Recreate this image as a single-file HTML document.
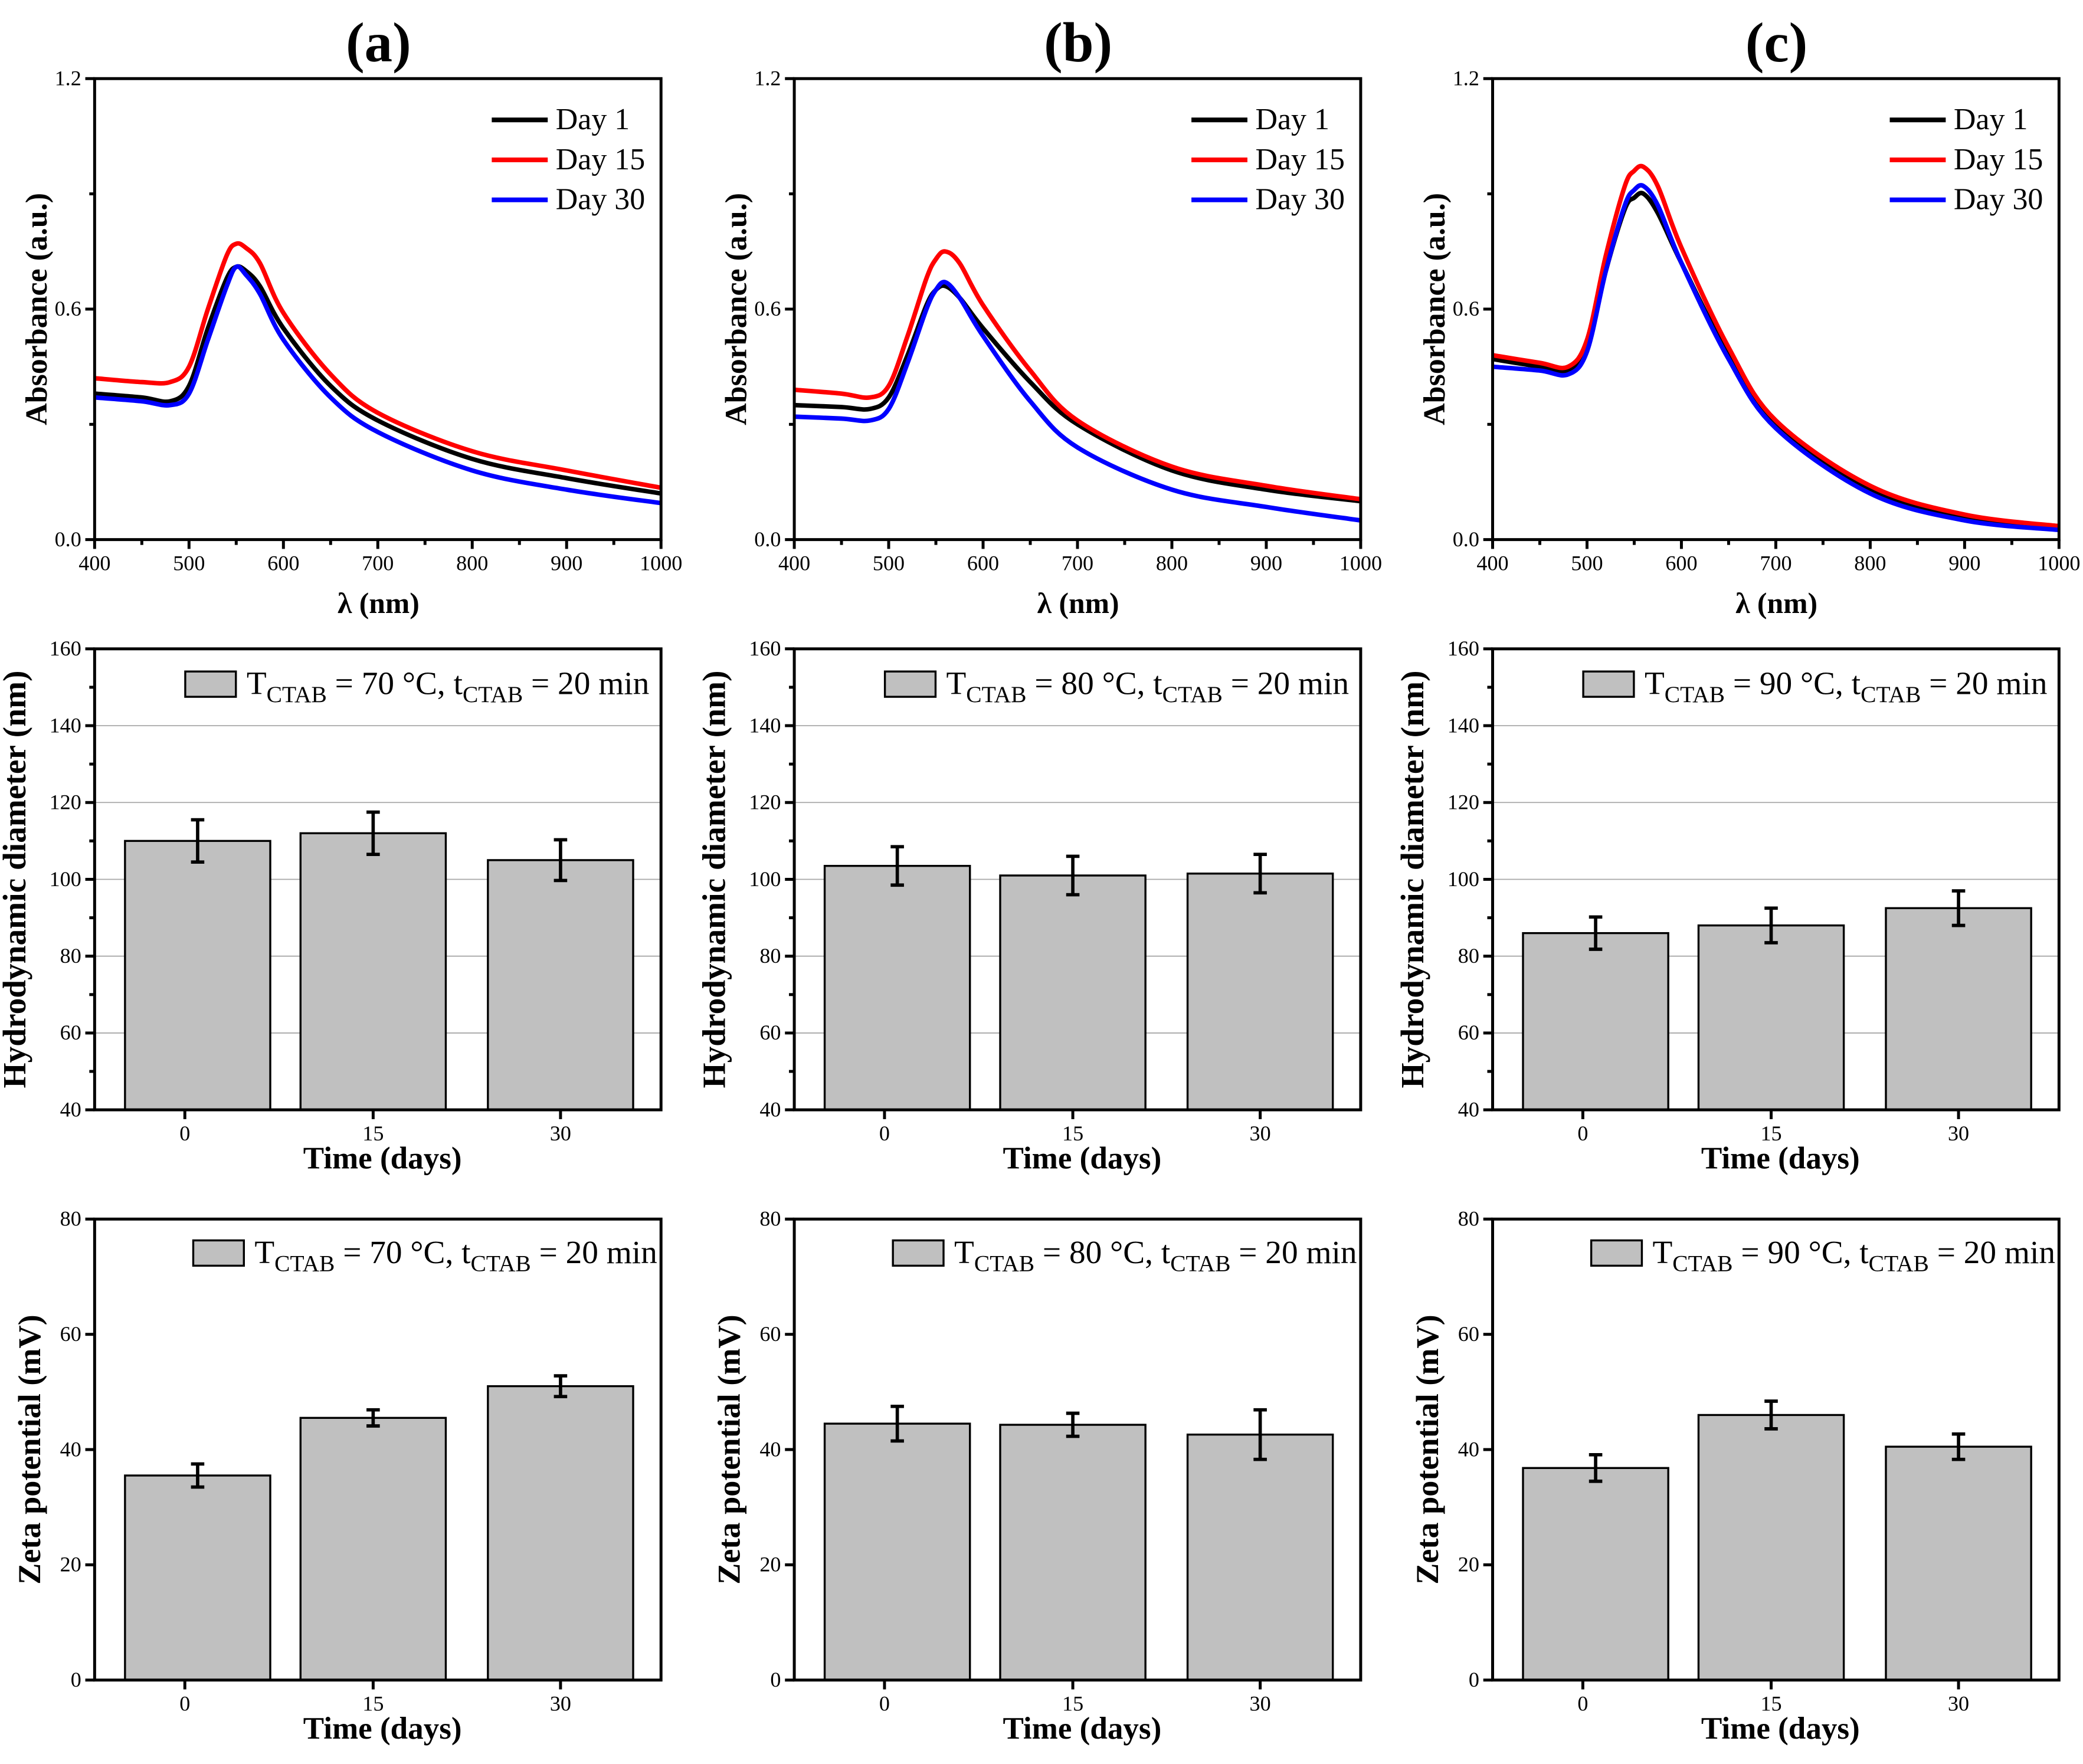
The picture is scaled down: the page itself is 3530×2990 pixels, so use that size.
<!DOCTYPE html>
<html><head><meta charset="utf-8">
<style>
html,body{margin:0;padding:0;background:#fff;}
svg{display:block;}
text{font-family:"Liberation Serif","DejaVu Serif",serif;fill:#000;}
</style></head>
<body>
<svg id="fig" xmlns="http://www.w3.org/2000/svg" width="3530" height="2990" viewBox="0 0 1563 1324" preserveAspectRatio="none"></svg>
<script>
// ---------- DATA ----------
const wavelengths = [400,450,480,500,520,540,550,560,575,600,650,700,800,900,1000];
const specA_day1  = [0.38,0.37,0.36,0.40,0.55,0.68,0.71,0.70,0.66,0.55,0.40,0.31,0.21,0.16,0.12];
const specA_day15 = [0.42,0.41,0.41,0.45,0.60,0.74,0.77,0.76,0.72,0.59,0.43,0.33,0.23,0.18,0.135];
const specA_day30 = [0.37,0.36,0.35,0.38,0.52,0.66,0.71,0.69,0.64,0.52,0.37,0.28,0.18,0.13,0.095];
const specB_day1  = [0.35,0.345,0.34,0.37,0.48,0.61,0.65,0.66,0.63,0.55,0.41,0.30,0.18,0.13,0.10];
const specB_day15 = [0.39,0.38,0.37,0.40,0.53,0.68,0.73,0.75,0.72,0.61,0.44,0.31,0.19,0.14,0.105];
const specB_day30 = [0.32,0.315,0.31,0.34,0.46,0.60,0.65,0.67,0.63,0.53,0.36,0.24,0.13,0.085,0.05];
const specC_day1  = [0.47,0.45,0.44,0.50,0.70,0.86,0.89,0.90,0.85,0.72,0.48,0.30,0.13,0.06,0.035];
const specC_day15 = [0.48,0.46,0.45,0.52,0.74,0.92,0.96,0.97,0.92,0.76,0.50,0.31,0.14,0.065,0.035];
const specC_day30 = [0.45,0.44,0.43,0.49,0.70,0.87,0.91,0.92,0.87,0.72,0.47,0.29,0.12,0.05,0.025];
const dayLabels = ["Day 1","Day 15","Day 30"];
const timeCats = ["0","15","30"];
const hydroA = [110,112,105], hydroAErr = [5.5,5.5,5.3];
const hydroB = [103.5,101,101.5], hydroBErr = [5,5,5];
const hydroC = [86,88,92.5], hydroCErr = [4.2,4.5,4.5];
const zetaA = [35.5,45.5,51], zetaAErr = [2,1.4,1.8];
const zetaB = [44.5,44.3,42.6], zetaBErr = [3,2,4.3];
const zetaC = [36.8,46,40.5], zetaCErr = [2.3,2.4,2.2];
const specTicks = ["0.0","0.6","1.2"], specTickVals=[0,0.6,1.2];
const xTicks = [400,500,600,700,800,900,1000];
const hydroTicks = [40,60,80,100,120,140,160];
const zetaTicks = [0,20,40,60,80];
const temps = ["70","80","90"];
const panelTitles = ["(a)","(b)","(c)"];

// ---------- LAYOUT ----------
const NS="http://www.w3.org/2000/svg";
const svg=document.getElementById('fig');
const lefts=[71,596,1120], W=425, tops=[59,487,915], H=346;
function mk(tag,attrs,parent){const e=document.createElementNS(NS,tag);for(const k in attrs)e.setAttribute(k,attrs[k]);(parent||svg).appendChild(e);return e;}
function txt(s,x,y,size,opts,parent){const t=mk('text',Object.assign({x:x,y:y,'font-size':size},opts||{}),parent);t.textContent=s;return t;}
function smooth(pts){let d='M'+pts[0][0]+','+pts[0][1];for(let i=0;i<pts.length-1;i++){const p0=pts[Math.max(0,i-1)],p1=pts[i],p2=pts[i+1],p3=pts[Math.min(pts.length-1,i+2)];const c1x=p1[0]+(p2[0]-p0[0])/6,c1y=p1[1]+(p2[1]-p0[1])/6,c2x=p2[0]-(p3[0]-p1[0])/6,c2y=p2[1]-(p3[1]-p1[1])/6;d+=' C'+c1x+','+c1y+' '+c2x+','+c2y+' '+p2[0]+','+p2[1];}return d;}

const specSets=[[specA_day1,specA_day15,specA_day30],[specB_day1,specB_day15,specB_day30],[specC_day1,specC_day15,specC_day30]];
const colors=["#000000","#ff0000","#0000ff"];
const hydroSets=[[hydroA,hydroAErr],[hydroB,hydroBErr],[hydroC,hydroCErr]];
const zetaSets=[[zetaA,zetaAErr],[zetaB,zetaBErr],[zetaC,zetaCErr]];

for(let p=0;p<3;p++){
  const L=lefts[p];
  const title=txt(panelTitles[p],L+213,46,42,{'text-anchor':'middle','font-weight':'bold'});
  
  

  // ----- spectra -----
  {
    const T=tops[0];
    const g=mk('g',{});
    
    
    const xs=v=>L+(v-400)/600*W, ys=v=>T+H-(v/1.2)*H;
    specSets[p].forEach((arr,i)=>{
      const pts=wavelengths.map((w,j)=>[xs(w),ys(arr[j])]);
      const path=mk('path',{d:smooth(pts),fill:'none',stroke:colors[i],'stroke-width':3.4,'stroke-linejoin':'round'},g);
      
      
    });
    mk('rect',{x:L,y:T,width:W,height:H,fill:'none',stroke:'#000','stroke-width':2.2},g);
    xTicks.forEach((v,i)=>{
      mk('line',{x1:xs(v),x2:xs(v),y1:T+H,y2:T+H+7,stroke:'#000','stroke-width':2.2},g);
      if(i<xTicks.length-1) mk('line',{x1:xs(v+50),x2:xs(v+50),y1:T+H,y2:T+H+4,stroke:'#000','stroke-width':2.2},g);
      txt(String(v),xs(v),T+H+23,16,{'text-anchor':'middle'},g);
    });
    specTickVals.forEach((v,i)=>{
      mk('line',{x1:L-7,x2:L,y1:ys(v),y2:ys(v),stroke:'#000','stroke-width':2.2},g);
      if(i<2) mk('line',{x1:L-4,x2:L,y1:ys(v+0.3),y2:ys(v+0.3),stroke:'#000','stroke-width':2.2},g);
      txt(specTicks[i],L-10,ys(v)+5,16,{'text-anchor':'end'},g);
    });
    const xl=txt('λ (nm)',L+213,T+H+55,22,{'text-anchor':'middle','font-weight':'bold'},g);
    
    
    const yl=txt('Absorbance (a.u.)',0,0,23,{'text-anchor':'middle','font-weight':'bold',transform:'translate('+(L-36)+','+(T+173)+') rotate(-90)'},g);
    
    
    dayLabels.forEach((d,i)=>{
      const le=mk('g',{},g);
      
      
      mk('line',{x1:L+298,x2:L+340,y1:T+31+30*i,y2:T+31+30*i,stroke:colors[i],'stroke-width':3.5},le);
      txt(d,L+346,T+38+30*i,23,{},le);
    });
  }

  // ----- bar charts -----
  const barCharts=[
    {T:tops[1],min:40,max:160,ticks:hydroTicks,data:hydroSets[p],grid:true,minor:10,label:'Hydrodynamic diameter (nm)',lx:L-52,ls:24.5,legX:68,legY:17,name:'hydrodynamic-chart'},
    {T:tops[2],min:0,max:80,ticks:zetaTicks,data:zetaSets[p],grid:false,minor:0,label:'Zeta potential (mV)',lx:L-41,ls:24,legX:74,legY:16,name:'zeta-chart'}
  ];
  barCharts.forEach(bc=>{
    const T=bc.T;
    const g=mk('g',{});
    
    
    const ys=v=>T+H-(v-bc.min)/(bc.max-bc.min)*H;
    const tickX=[L+67.7,L+209,L+349.6], barX=[L+77.3,L+209,L+349.6], bw=109;
    if(bc.grid) bc.ticks.slice(1,-1).forEach(v=>mk('line',{x1:L,x2:L+W,y1:ys(v),y2:ys(v),stroke:'#a8a8a8','stroke-width':0.8},g));
    const [vals,errs]=bc.data;
    vals.forEach((v,i)=>{
      const r=mk('rect',{x:barX[i]-bw/2,y:ys(v),width:bw,height:ys(bc.min)-ys(v),fill:'#c0c0c0',stroke:'#000','stroke-width':1.5},g);
      
      
      const eb=mk('g',{stroke:'#000','stroke-width':2.5},g);
      
      
      const hi=ys(v+errs[i]), lo=ys(v-errs[i]);
      mk('line',{x1:barX[i],x2:barX[i],y1:hi,y2:lo},eb);
      mk('line',{x1:barX[i]-5,x2:barX[i]+5,y1:hi,y2:hi},eb);
      mk('line',{x1:barX[i]-5,x2:barX[i]+5,y1:lo,y2:lo},eb);
    });
    mk('rect',{x:L,y:T,width:W,height:H,fill:'none',stroke:'#000','stroke-width':2.2},g);
    timeCats.forEach((c,i)=>{
      mk('line',{x1:tickX[i],x2:tickX[i],y1:T+H,y2:T+H+7,stroke:'#000','stroke-width':2.2},g);
      txt(c,tickX[i],T+H+23,16,{'text-anchor':'middle'},g);
    });
    bc.ticks.forEach((v,i)=>{
      mk('line',{x1:L-7,x2:L,y1:ys(v),y2:ys(v),stroke:'#000','stroke-width':2.2},g);
      if(bc.minor && i<bc.ticks.length-1) mk('line',{x1:L-4,x2:L,y1:ys(v+bc.minor),y2:ys(v+bc.minor),stroke:'#000','stroke-width':2.2},g);
      txt(String(v),L-10,ys(v)+5,16,{'text-anchor':'end'},g);
    });
    const xl=txt('Time (days)',L+216,T+H+44,23.5,{'text-anchor':'middle','font-weight':'bold'},g);
    
    
    const yl=txt(bc.label,0,0,bc.ls,{'text-anchor':'middle','font-weight':'bold',transform:'translate('+bc.lx+','+(T+173)+') rotate(-90)'},g);
    
    
    const le=mk('g',{},g);
    
    
    mk('rect',{x:L+bc.legX,y:T+bc.legY,width:38,height:19,fill:'#c0c0c0',stroke:'#000','stroke-width':1.5},le);
    const t=mk('text',{x:L+bc.legX+46,y:T+bc.legY+17,'font-size':24.5},le);
    t.innerHTML='T<tspan font-size="17.5" dy="6">CTAB</tspan><tspan dy="-6"> = '+temps[p]+' °C, t</tspan><tspan font-size="17.5" dy="6">CTAB</tspan><tspan dy="-6"> = 20 min</tspan>';
  });
}
</script>
</body></html>
